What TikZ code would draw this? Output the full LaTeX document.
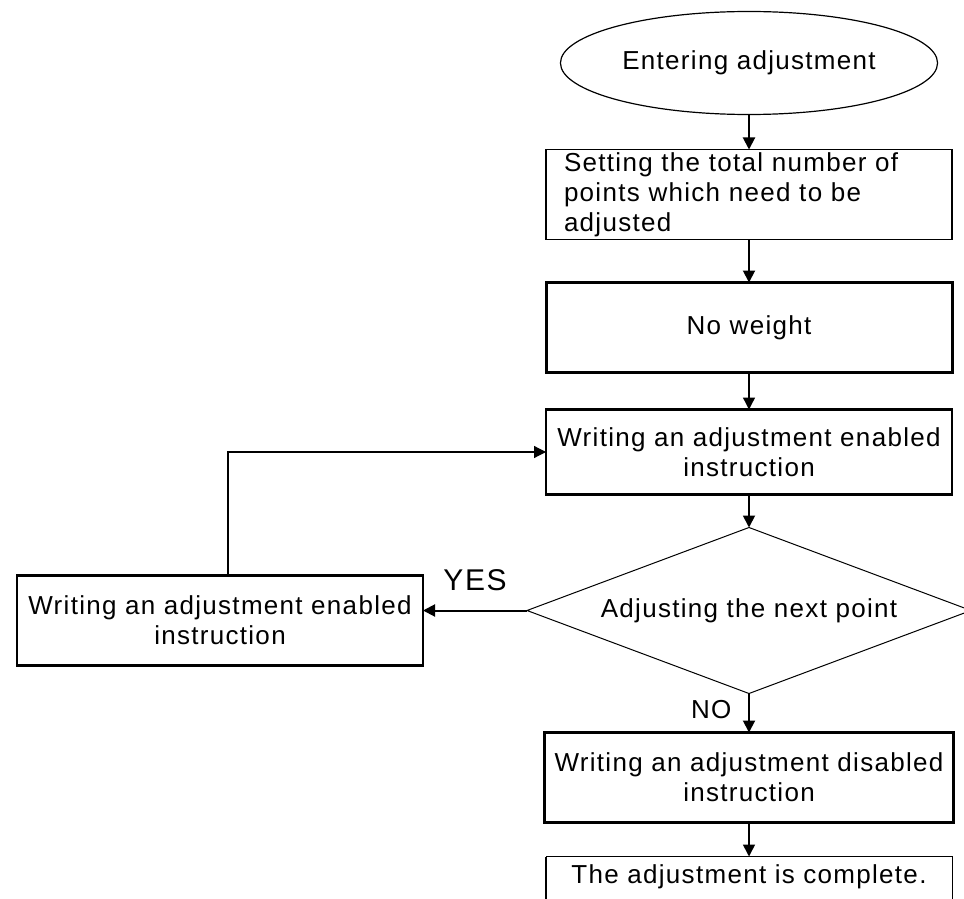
\documentclass[tikz,border=0pt]{standalone}
\usepackage{fontspec}
\setmainfont{Liberation Sans}[LetterSpace=5]
\usepackage{tikz}
\usetikzlibrary{arrows.meta,positioning,shapes.geometric}

\begin{document}
\begin{tikzpicture}[x=0.5pt, y=-0.5pt, >={Triangle[length=6pt,width=6pt]},
  every node/.style={font=\fontsize{13}{15}\selectfont, align=center},
  box/.style={draw, minimum width=203pt, minimum height=45pt, inner sep=0pt, outer sep=0pt}]
\useasboundingbox (0,0) rectangle (964,899);
\clip (0,0) rectangle (964,899);
\node (enter) [draw, ellipse, line width=0.6pt, outer sep=0pt, minimum width=185pt, minimum height=51.5pt] at (749,63) {Entering adjustment};
\node (total) [box, line width=0.8pt, below=17.5pt of enter, align=left, text width=185pt] {Setting the total number of\\points which need to be\\adjusted};
\node (noweight) [box, line width=1.5pt, below=21.5pt of total] {No weight};
\node (enable) [box, line width=1.1pt, minimum height=42.5pt, below=18.5pt of noweight] {Writing an adjustment enabled\\instruction};
\node (next) [draw, diamond, aspect=2.65, line width=0.5pt, minimum width=222pt, minimum height=83pt, inner sep=0pt, outer sep=0pt, below=16.5pt of enable] {Adjusting the next point};
\node (again) [box, line width=1.2pt, left=52pt of next, yshift=-5pt] {Writing an adjustment enabled\\instruction};
\node (disable) [box, line width=1.5pt, minimum width=204.5pt, below=19.5pt of next] {Writing an adjustment disabled\\instruction};
\node (done) [box, draw=none, minimum height=20pt, below=17pt of disable] {The adjustment is complete.};
\draw[line width=0.5pt] ([yshift=-5pt]done.south west) -- (done.north west) -- (done.north east) -- ([yshift=-5pt]done.south east);
\draw[line width=1.2pt] ([yshift=-5pt]done.south west) -- (done.north west);
\draw[->, line width=1pt] (enter.south) -- (total.north);
\draw[->, line width=1pt] (total.south) -- (noweight.north);
\draw[->, line width=0.7pt] (noweight.south) -- (enable.north);
\draw[->, line width=0.9pt] (enable.south) -- (next.north);
\draw[->, line width=1pt] (next.west) -- node[above=6pt, font=\fontsize{15}{18}\selectfont]{YES} (next.west -| again.east);
\draw[->, line width=0.6pt] ([xshift=4pt]again.north) |- (enable.west);
\draw[->, line width=1pt] (next.south) -- node[pos=0.4, left=5pt]{NO} (disable.north);
\draw[->, line width=0.8pt] (disable.south) -- (done.north);
\end{tikzpicture}
\end{document}
